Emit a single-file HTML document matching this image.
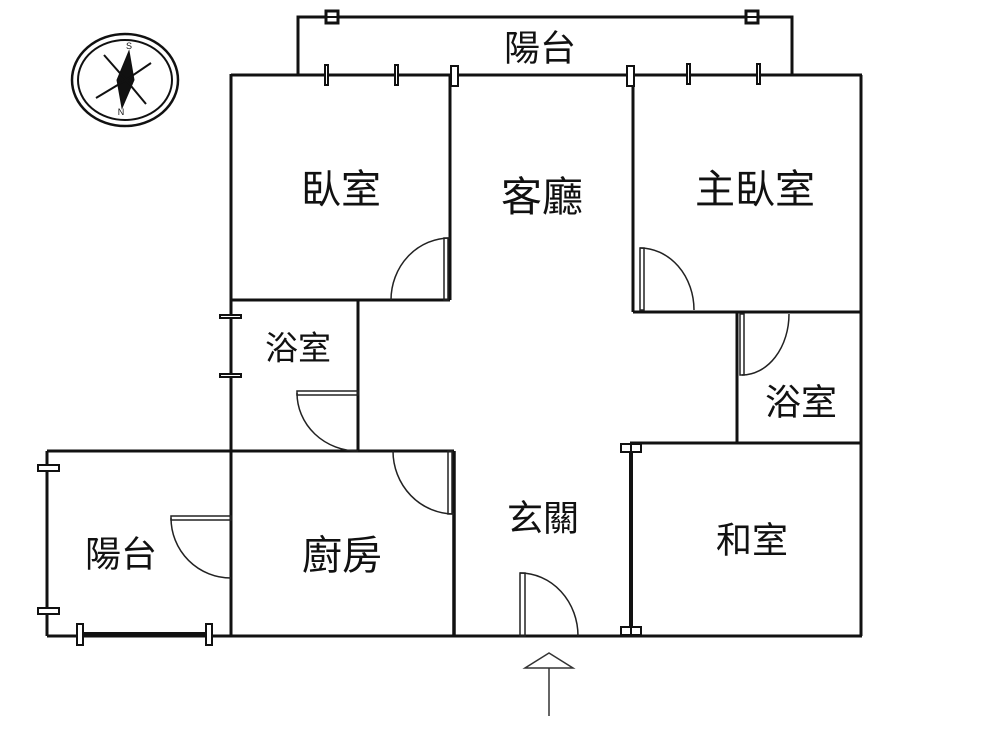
<!DOCTYPE html>
<html><head><meta charset="utf-8"><style>html,body{margin:0;padding:0;background:#fff}svg{display:block}text{font-family:"Liberation Sans","Noto Sans CJK TC",sans-serif;fill:#111;text-anchor:middle;dominant-baseline:central}</style></head><body>
<svg width="1000" height="750" viewBox="0 0 1000 750" xmlns="http://www.w3.org/2000/svg">
<g stroke="#111" fill="none" stroke-width="3">
<polyline points="298,75 298,17 792,17 792,75"/>
<line x1="231" y1="75" x2="862" y2="75"/>
<line x1="231" y1="74" x2="231" y2="636"/>
<line x1="231" y1="300" x2="450" y2="300"/>
<line x1="450" y1="75" x2="450" y2="300"/>
<line x1="633" y1="75" x2="633" y2="312"/>
<line x1="633" y1="312" x2="861" y2="312"/>
<line x1="861" y1="75" x2="861" y2="636"/>
<line x1="358" y1="300" x2="358" y2="451"/>
<line x1="47" y1="451" x2="454" y2="451"/>
<line x1="47" y1="451" x2="47" y2="636"/>
<line x1="47" y1="636" x2="862" y2="636"/>
<line x1="454" y1="451" x2="454" y2="636" stroke-width="3.5"/>
<line x1="737" y1="312" x2="737" y2="443"/>
<line x1="630" y1="443" x2="861" y2="443"/>
<line x1="631" y1="447" x2="631" y2="632" stroke-width="4"/>
<line x1="80" y1="634" x2="209" y2="634" stroke-width="4"/>
</g>
<g stroke="#111" stroke-width="2" fill="#fff">
<rect x="326" y="11" width="12" height="12" stroke-width="3"/><line x1="326" y1="17" x2="338" y2="17"/>
<rect x="746" y="11" width="12" height="12" stroke-width="3"/><line x1="746" y1="17" x2="758" y2="17"/>
<rect x="325" y="65" width="3" height="20"/><rect x="395" y="65" width="3" height="20"/>
<rect x="451" y="66" width="7" height="20"/><rect x="627" y="66" width="7" height="20"/>
<rect x="687" y="64" width="3" height="20"/><rect x="757" y="64" width="3" height="20"/>
<rect x="220" y="315" width="21" height="3"/><rect x="220" y="374" width="21" height="3"/>
<rect x="38" y="465" width="21" height="6"/><rect x="38" y="608" width="21" height="6"/>
<rect x="77" y="624" width="6" height="21"/><rect x="206" y="624" width="6" height="21"/>
<rect x="621" y="444" width="20" height="8"/><line x1="631" y1="444" x2="631" y2="452"/>
<rect x="621" y="627" width="20" height="8"/><line x1="631" y1="627" x2="631" y2="635"/>
</g>
<g stroke="#222" stroke-width="1.5" fill="none">
<path d="M391,300 A59,62 0 0 1 450,238"/><rect x="444" y="238" width="4" height="62"/>
<path d="M640,248 A54,62 0 0 1 694,310"/><rect x="640" y="248" width="4" height="62"/>
<path d="M297,393 A61,58 0 0 0 358,451"/><rect x="297" y="391" width="61" height="4"/>
<path d="M171,518 A60,60 0 0 0 231,578"/><rect x="171" y="516" width="60" height="4"/>
<path d="M393,451 A61,63 0 0 0 454,514"/><rect x="448" y="451" width="4" height="63"/>
<path d="M742,375 A47,61 0 0 0 789,314"/><rect x="740" y="314" width="4" height="61"/>
<path d="M520,573 A58,63 0 0 1 578,636"/><rect x="520" y="573" width="5" height="63"/>
</g>
<g stroke="#333" stroke-width="1.5" fill="none">
<polygon points="549,653 525,668 573,668"/><line x1="549" y1="668" x2="549" y2="716"/>
</g>
<g stroke="#111" fill="none">
<ellipse cx="125" cy="80" rx="53" ry="46" stroke-width="2.5"/>
<ellipse cx="125" cy="80" rx="47" ry="40" stroke-width="2"/>
<polygon points="129,51 134,80 122,108 117,80" fill="#111"/>
<polyline points="104,55 126,80 151,63 126,80 146,104 126,80 96,98 126,80 104,55" stroke-width="2"/>
</g>
<text x="129" y="46" style="font-size:9px">S</text>
<text x="121" y="112" style="font-size:9px">N</text>
<text x="540" y="48" style="font-size:36px">陽台</text>
<text x="341" y="190" style="font-size:40px">臥室</text>
<text x="542" y="197" style="font-size:41px">客廳</text>
<text x="755" y="190" style="font-size:40px">主臥室</text>
<text x="298" y="348" style="font-size:33px">浴室</text>
<text x="801" y="402" style="font-size:36px">浴室</text>
<text x="121" y="554" style="font-size:36px">陽台</text>
<text x="342" y="556" style="font-size:40px">廚房</text>
<text x="543" y="518" style="font-size:36px">玄關</text>
<text x="752" y="540" style="font-size:36px">和室</text>
</svg>
</body></html>
